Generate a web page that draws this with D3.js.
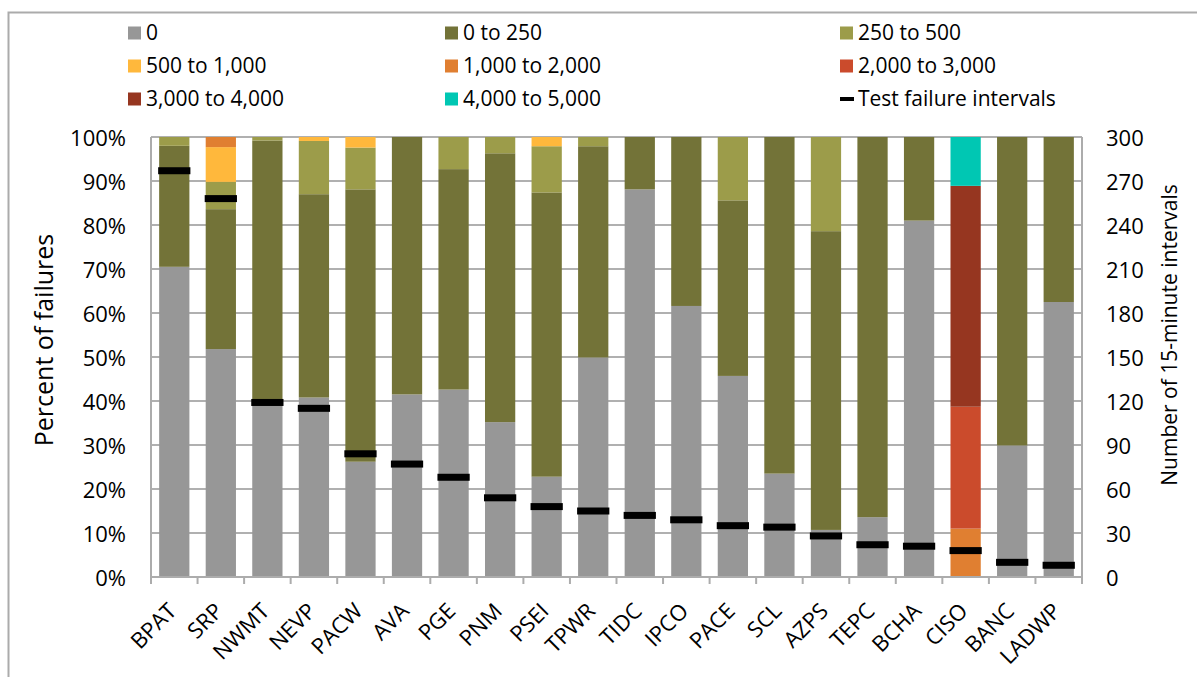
<!doctype html>
<html lang=en>
<head>
  <meta charset="utf-8">
  <title>Failures by BA</title>
  <script src="https://cdn.jsdelivr.net/npm/d3@7"></script>
  <style>
body {
  margin: 0;
  background: white;
  font-family: "Open Sans", sans-serif;
}
  </style>
</head>
<body>
<div id=content></div>
<script>

  // balancing areas along the x axis
  var areas = ["BPAT","SRP","NWMT","NEVP","PACW","AVA","PGE","PNM","PSEI","TPWR",
               "TIDC","IPCO","PACE","SCL","AZPS","TEPC","BCHA","CISO","BANC","LADWP"]

  // share of failures (percent) in each size bucket
  var s0      = [70.5,51.8,40.0,40.8,26.2,41.5,42.6,35.2,22.8,49.9,88.1,61.6,45.7,23.5,10.7,13.6,81.0, 0.0,29.9,62.5]
  var s0_250  = [27.5,31.8,59.2,46.2,61.9,58.5,50.1,61.1,64.6,48.0,11.9,38.4,39.9,76.5,67.9,86.4,19.0, 0.0,70.1,37.5]
  var s250    = [ 2.0, 6.2, 0.8,12.1, 9.5, 0.0, 7.3, 3.7,10.5, 2.1, 0.0, 0.0,14.4, 0.0,21.4, 0.0, 0.0, 0.0, 0.0, 0.0]
  var s500    = [ 0.0, 7.9, 0.0, 0.9, 2.4, 0.0, 0.0, 0.0, 2.1, 0.0, 0.0, 0.0, 0.0, 0.0, 0.0, 0.0, 0.0, 0.0, 0.0, 0.0]
  var s1000   = [ 0.0, 2.3, 0.0, 0.0, 0.0, 0.0, 0.0, 0.0, 0.0, 0.0, 0.0, 0.0, 0.0, 0.0, 0.0, 0.0, 0.0,11.0, 0.0, 0.0]
  var s2000   = [ 0.0, 0.0, 0.0, 0.0, 0.0, 0.0, 0.0, 0.0, 0.0, 0.0, 0.0, 0.0, 0.0, 0.0, 0.0, 0.0, 0.0,27.7, 0.0, 0.0]
  var s3000   = [ 0.0, 0.0, 0.0, 0.0, 0.0, 0.0, 0.0, 0.0, 0.0, 0.0, 0.0, 0.0, 0.0, 0.0, 0.0, 0.0, 0.0,50.2, 0.0, 0.0]
  var s4000   = [ 0.0, 0.0, 0.0, 0.0, 0.0, 0.0, 0.0, 0.0, 0.0, 0.0, 0.0, 0.0, 0.0, 0.0, 0.0, 0.0, 0.0,11.1, 0.0, 0.0]

  // number of 15-minute test failure intervals (right axis)
  var testFail = [277,258,119,115,84,77,68,54,48,45,42,39,35,34,28,22,21,18,10,8]

  var seriesNames = ["0","0 to 250","250 to 500","500 to 1,000","1,000 to 2,000",
                     "2,000 to 3,000","3,000 to 4,000","4,000 to 5,000"]
  var seriesVals = [s0,s0_250,s250,s500,s1000,s2000,s3000,s4000]
  var colors = ["#979797","#737338","#9c9c4a","#ffb83c","#e07f31","#cb4b2c","#963620","#00c7b3"]

  var leftTicks = [0,10,20,30,40,50,60,70,80,90,100]
  var rightTicks = [0,30,60,90,120,150,180,210,240,270,300]

  var W = 1197, H = 677
  // plot area          t,   r,    b,   l
  var m = [137, 1082, 577, 151]

  var rows = areas.map(function(a, i){
    var r = {area: a}
    seriesNames.forEach(function(s, j){ r[s] = seriesVals[j][i] })
    return r
  })
  var stacked = d3.stack().keys(seriesNames)(rows)

  var svg = d3.select("#content").append("svg")
      .attr("width", W).attr("height", H)
      .style("display", "block")

  // chart border (runs off the right and bottom of the picture)
  svg.append("rect")
     .attr("x", 8.5).attr("y", 12.5)
     .attr("width", W).attr("height", H)
     .attr("fill", "none").attr("stroke", "#ababab").attr("stroke-width", 2)

  var x = d3.scaleBand().domain(areas).range([m[3], m[1]]).paddingInner(0.35).paddingOuter(0.175)
  var y = d3.scaleLinear().domain([0, 100]).range([m[2], m[0]])
  var y2 = d3.scaleLinear().domain([0, 300]).range([m[2], m[0]])

  // gridlines
  svg.append("g").selectAll("line").data(leftTicks).join("line")
     .attr("x1", m[3]).attr("x2", m[1])
     .attr("y1", d => y(d)).attr("y2", d => y(d))
     .attr("stroke", "#b0b0b0").attr("stroke-width", 2)

  // bars
  svg.append("g").selectAll("g").data(stacked).join("g")
     .attr("fill", (d, i) => colors[i])
     .selectAll("rect").data(d => d).join("rect")
     .attr("x", d => x(d.data.area))
     .attr("width", x.bandwidth())
     .attr("y", d => y(d[1]))
     .attr("height", d => y(d[0]) - y(d[1]))

  // axes lines
  var ax = svg.append("g").attr("stroke", "#acacac").attr("stroke-width", 2)
  ax.append("line").attr("x1", m[3]).attr("x2", m[3]).attr("y1", m[0]).attr("y2", m[2])
  ax.append("line").attr("x1", m[1]).attr("x2", m[1]).attr("y1", m[0]).attr("y2", m[2])
  ax.append("line").attr("x1", m[3]).attr("x2", m[1]).attr("y1", m[2]).attr("y2", m[2])
  var step = x.step()
  ax.selectAll("line.tk").data(d3.range(areas.length + 1)).join("line")
    .attr("class", "tk")
    .attr("x1", i => m[3] + i * step).attr("x2", i => m[3] + i * step)
    .attr("y1", m[2]).attr("y2", m[2] + 7)

  // test failure markers
  svg.append("g").selectAll("rect").data(testFail).join("rect")
     .attr("x", (d, i) => x(areas[i]) - 1)
     .attr("width", x.bandwidth() + 2)
     .attr("y", d => y2(d) - 3.5)
     .attr("height", 7)
     .attr("fill", "black")

  // tick labels
  svg.append("g").selectAll("text").data(leftTicks).join("text")
     .attr("x", 126).attr("y", d => y(d) + 1)
     .attr("dy", "0.35em").attr("text-anchor", "end")
     .attr("font-size", 22)
     .text(d => d + "%")
  svg.append("g").selectAll("text").data(rightTicks).join("text")
     .attr("x", 1106).attr("y", d => y2(d) + 1)
     .attr("dy", "0.35em")
     .attr("font-size", 22)
     .text(d => d)

  svg.append("g").selectAll("text").data(areas).join("text")
     .attr("transform", d => "translate(" + (x(d) + x.bandwidth() / 2 - 2) + "," + 607 + ") rotate(-45)")
     .attr("text-anchor", "end")
     .attr("dy", "0.35em")
     .attr("font-size", 22)
     .text(d => d)

  // axis titles
  svg.append("text")
     .attr("transform", "translate(44,340) rotate(-90)")
     .attr("text-anchor", "middle").attr("dy", "0.35em")
     .attr("font-size", 25)
     .text("Percent of failures")
  svg.append("text")
     .attr("transform", "translate(1170,335) rotate(-90)")
     .attr("text-anchor", "middle").attr("dy", "0.35em")
     .attr("font-size", 21)
     .text("Number of 15-minute intervals")

  // legend
  var legItems = seriesNames.map((s, i) => ({name: s, color: colors[i]}))
  legItems.push({name: "Test failure intervals", line: true})
  var colX = [128, 445, 840], rowY = [33, 66, 99]
  var leg = svg.append("g").selectAll("g").data(legItems).join("g")
     .attr("transform", (d, i) => "translate(" + colX[i % 3] + "," + rowY[Math.floor(i / 3)] + ")")
  leg.filter(d => !d.line).append("rect")
     .attr("x", 0).attr("y", -6.5).attr("width", 13).attr("height", 13)
     .attr("fill", d => d.color)
  leg.filter(d => d.line).append("rect")
     .attr("x", 0).attr("y", -2).attr("width", 14).attr("height", 4)
     .attr("fill", "black")
  leg.append("text")
     .attr("x", 18).attr("dy", "0.35em")
     .attr("font-size", 21)
     .text(d => d.name)

</script>
</body>
</html>
